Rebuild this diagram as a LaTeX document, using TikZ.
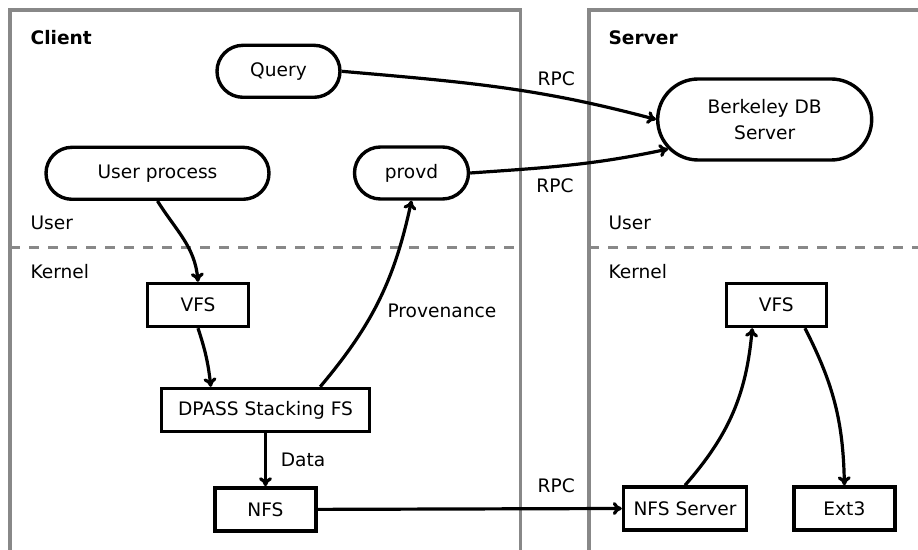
\documentclass[tikz,border=0pt]{standalone}
\usepackage{fontspec}
\setmainfont{DejaVu Sans}
\usetikzlibrary{arrows.meta,shapes.misc}
\usetikzlibrary{positioning}
\definecolor{panelgray}{RGB}{136,136,136}
\tikzset{
    proc/.style={
           rounded rectangle,
           draw=black, line width=1.7pt,
           inner sep=0pt,
           minimum height=26pt,
           text centered,
           },
    fsbox/.style={
           rectangle,
           draw=black, line width=1.7pt,
           inner sep=0pt,
           minimum height=21.5pt,
           text centered,
           },
    panel/.style={draw=panelgray, line width=1.6pt},
    layer/.style={draw=panelgray, line width=1.5pt, dash pattern=on 5pt off 4.5pt},
    lbl/.style={inner sep=0pt, anchor=base west},
    rpc/.style={inner sep=0pt, anchor=base},
}

\begin{document}
\begin{tikzpicture}[x=0.5pt,y=0.5pt,->,>={To[length=4.5pt,width=6.5pt]},
  line width=1.6pt, font=\fontsize{9.3pt}{13.3pt}\selectfont]

 \useasboundingbox (0,0) rectangle (918,-550);

 % Client and Server panels (open at the bottom)
 \begin{scope}[-]
 \path[panel] (10,-550) -- (10,-10) -- (520.5,-10) -- (520.5,-550);
 \path[panel] (918,-10) -- (589,-10) -- (589,-550);
 % user / kernel border
 \path[layer] (10,-248) -- (520.5,-248);
 \path[layer] (589,-248) -- (918,-248);
 \end{scope}

 \node[lbl] (client) at (29,-45) {\bfseries Client};
 \node[lbl] (server) at (607,-45) {\bfseries Server};
 \node[lbl] (cuser) at (29,-230) {User};
 \node[lbl] (ckernel) at (29,-279) {Kernel};
 \node[lbl] (suser) at (607,-230) {User};
 \node[lbl] (skernel) at (607,-279) {Kernel};

 % user space processes
 \node[proc, minimum width=61.5pt] (query) at (278.5,-71.3) {Query};
 \node[proc, minimum width=111.5pt] (up) at (157.5,-173.3) {User process};
 \node[proc, minimum width=57pt] (provd) at (411.5,-173) {provd};
 \node[proc, minimum width=107pt, minimum height=40.5pt, align=center]
  (bdb) at (764.7,-119.5) {Berkeley DB\\Server};

 % client kernel
 \node[fsbox, minimum width=50.5pt] (vfsc) at (198,-305) {VFS};
 \node[fsbox, minimum width=104pt] (dpass) at (265.5,-410) {DPASS Stacking FS};
 \node[fsbox, minimum width=50.5pt, below=26.5pt of dpass] (nfs) {NFS};

 % server kernel
 \node[fsbox, minimum width=50pt] (vfss) at (776.3,-305) {VFS};
 \node[fsbox, minimum width=61.5pt] (nfss) at (685,-508.5) {NFS Server};
 \node[fsbox, minimum width=50.5pt, right=22pt of nfss] (ext3) {Ext3};

 % edge texts
 \node[rpc] (rpcquery) at (556.3,-86) {RPC};
 \node[rpc] (rpcprovd) at (555,-193) {RPC};
 \node[rpc] (rpcnfs) at (556.3,-493) {RPC};
 \node[lbl] (prov) at (386,-318) {Provenance};
 \node[lbl] (data) at (279.3,-467) {Data};

 % connections
 \path[->] (query.east) edge[out=-5,in=165] (bdb.west)
 (provd.east)  edge[out=4,in=192]    (bdb.197)
 (up.south)    edge[out=-58,in=95]   (vfsc.north)
 (vfsc.south)  edge[bend left=6]     (dpass.157)
 (dpass.23)    edge[bend right=14]   (provd.south)
 (dpass.south) edge                  (nfs.north)
 (nfs.east)    edge                  (nfss.west)
 (nfss.north)  edge[bend right=18]   (vfss.-136)
 (vfss.-39)    edge[bend left=13]    (ext3.north);
\end{tikzpicture}
\end{document}
